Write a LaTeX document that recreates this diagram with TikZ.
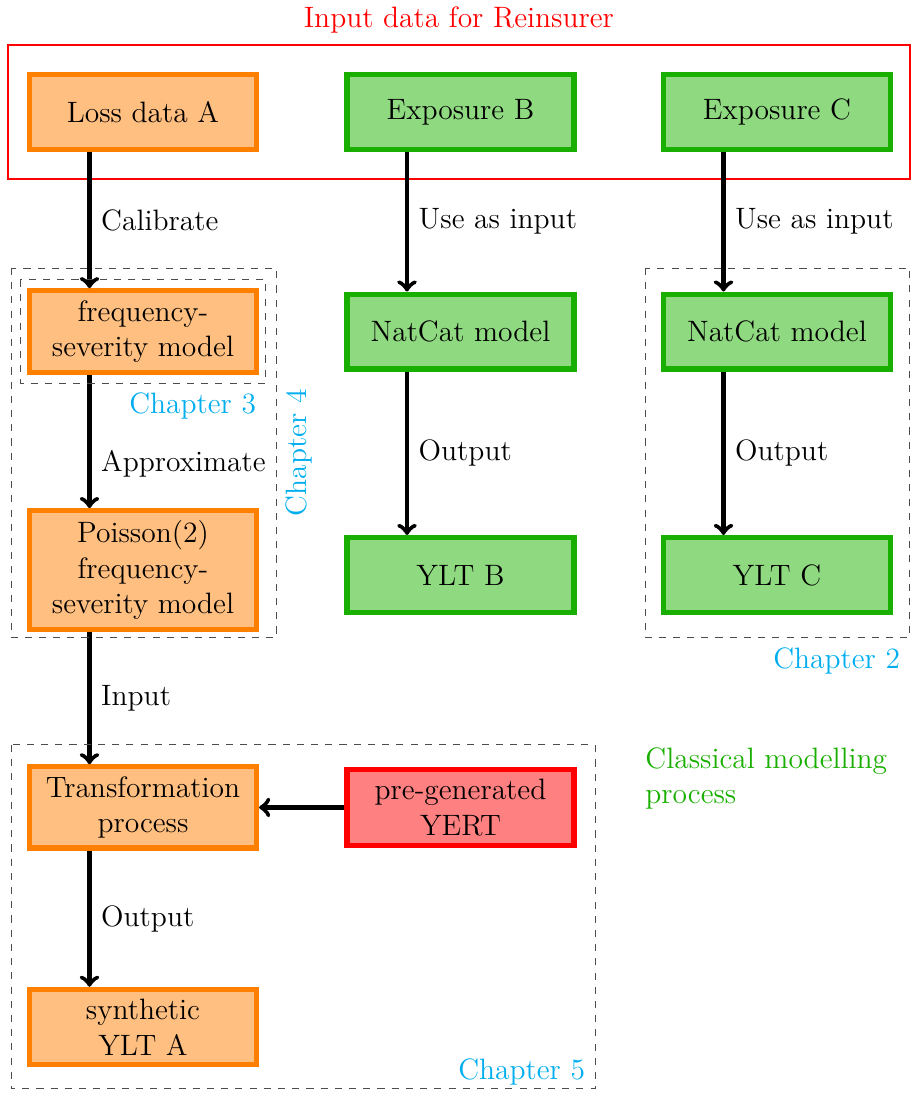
\documentclass[tikz,border=0pt,12pt]{standalone}

\definecolor{lossfill}{RGB}{255,191,128}
\definecolor{lossdraw}{RGB}{255,128,0}
\definecolor{catfill}{RGB}{143,217,128}
\definecolor{catdraw}{RGB}{25,175,0}
\definecolor{yertfill}{RGB}{255,128,128}
\definecolor{chapcol}{RGB}{0,174,239}

\begin{document}
\begin{tikzpicture}[
  font=\fontsize{12.45}{15.1}\selectfont,
  box/.style={rectangle, draw, line width=2.2pt, minimum width=3.37cm, minimum height=1.11cm, align=center},
  lossbox/.style={box, draw=lossdraw, fill=lossfill},
  catbox/.style={box, draw=catdraw, fill=catfill},
  yertbox/.style={box, draw=red, fill=yertfill},
  flow/.style={->, line width=1.9pt},
  chapframe/.style={dashed, draw=black!70},
  chaplabel/.style={text=chapcol},
  inputframe/.style={draw=red, line width=1pt}
]

  \useasboundingbox (0,0) rectangle (13.62,-16.34);

  % input data
  \node (title) [text=red] at (6.81,-0.30) {Input data for Reinsurer};
  \draw[inputframe] (0.119,-0.668) rectangle (13.504,-2.656);

  \node (lossA) [lossbox] at (2.122,-1.662) {Loss data A};
  \node (expB) [catbox] at (6.834,-1.662) {Exposure B};
  \node (expC) [catbox] at (11.531,-1.662) {Exposure C};

  % models
  \node (freq) [lossbox] at (2.122,-4.920) {frequency-\\severity model};
  \node (natB) [catbox] at (6.834,-4.920) {NatCat model};
  \node (natC) [catbox] at (11.531,-4.920) {NatCat model};

  \node (poisson) [lossbox] at (2.122,-8.459) {Poisson(2)\\frequency-\\severity model};
  \node (yltB) [catbox] at (6.834,-8.533) {YLT B};
  \node (yltC) [catbox] at (11.531,-8.533) {YLT C};

  % transformation
  \node (trans) [lossbox] at (2.122,-11.983) {Transformation\\process};
  \node (yert) [yertbox] at (6.834,-11.983) {pre-generated\\YERT};
  \node (synth) [lossbox] at (2.122,-15.241) {synthetic\\YLT A};

  \draw[flow] ([xshift=0.93cm]lossA.south west) -- ([xshift=0.93cm]freq.north west) node[midway, right] {Calibrate};
  \draw[flow] ([xshift=0.93cm]expB.south west) -- ([xshift=0.93cm]natB.north west) node[midway, right] {Use as input};
  \draw[flow] ([xshift=0.93cm]expC.south west) -- ([xshift=0.93cm]natC.north west) node[midway, right] {Use as input};

  \draw[flow] ([xshift=0.93cm]freq.south west) -- ([xshift=0.93cm]poisson.north west) node[pos=0.67, right] {Approximate};
  \draw[flow] ([xshift=0.93cm]natB.south west) -- ([xshift=0.93cm]yltB.north west) node[midway, right] {Output};
  \draw[flow] ([xshift=0.93cm]natC.south west) -- ([xshift=0.93cm]yltC.north west) node[midway, right] {Output};

  \draw[flow] ([xshift=0.93cm]poisson.south west) -- ([xshift=0.93cm]trans.north west) node[midway, right] {Input};
  \draw[flow] (yert.west) -- (trans.east);
  \draw[flow] ([xshift=0.93cm]trans.south west) -- ([xshift=0.93cm]synth.north west) node[midway, right] {Output};

  % chapters
  \draw[chapframe] (0.297,-4.155) rectangle (3.947,-5.684);
  \node (chapthree) [chaplabel, anchor=north east] at (3.947,-5.684) {Chapter 3};

  \draw[chapframe] (0.163,-3.977) rectangle (4.096,-9.468);
  \node (chapfour) [chaplabel, rotate=90, anchor=north] at (4.096,-6.72) {Chapter 4};

  \draw[chapframe] (9.572,-3.977) rectangle (13.504,-9.468);
  \node (chaptwo) [chaplabel, anchor=north east] at (13.504,-9.468) {Chapter 2};

  \draw[chapframe] (0.163,-11.056) rectangle (8.830,-16.161);
  \node (chapfive) [chaplabel, anchor=south east, inner ysep=1.5pt] at (8.830,-16.161) {Chapter 5};

  \node (classic) [text=catdraw, align=left, anchor=north west, inner sep=0pt] at (9.572,-11.085) {Classical modelling\\process};

\end{tikzpicture}
\end{document}
